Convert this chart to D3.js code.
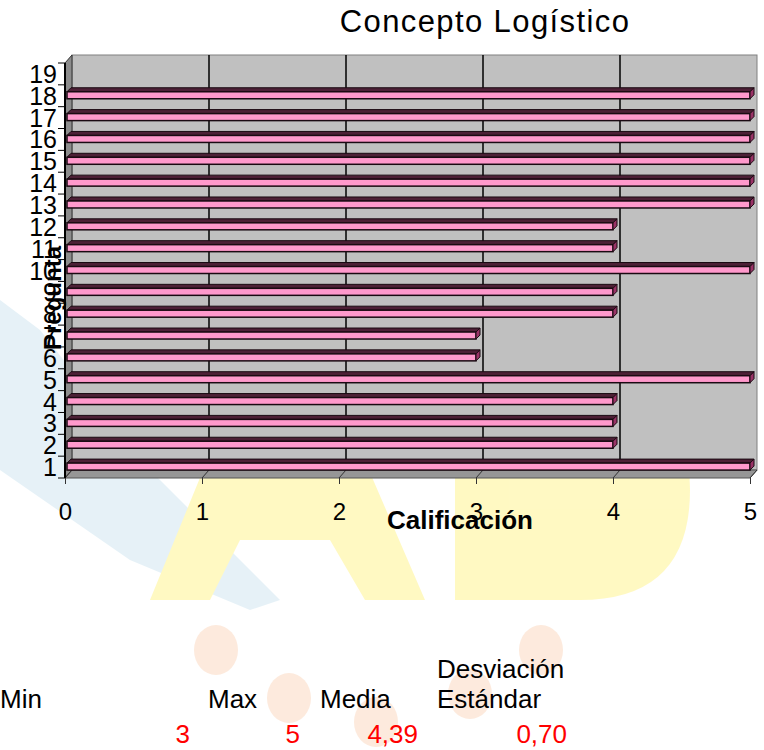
<!DOCTYPE html>
<html>
<head>
<meta charset="utf-8">
<script src="https://cdn.jsdelivr.net/npm/d3@7"></script>
<style>
  body { margin: 0; background: #fff; }
  svg { display: block; font-family: "Liberation Sans", Arial, sans-serif; }
</style>
</head>
<body>
<div id="general"></div>
<script>
const w = 764, h = 750;

// data
const preguntas = d3.range(1, 20).map(String);
const calificacion = [5, 4, 4, 4, 5, 3, 3, 4, 4, 5, 4, 4, 5, 5, 5, 5, 5, 5, null];
const xTicks = [0, 1, 2, 3, 4, 5];
const statLabels = ["Min", "Max", "Media", "Desviación Estándar"];
const statValues = ["3", "5", "4,39", "0,70"];

const data = preguntas.map((p, i) => ({p, v: calificacion[i]}));

const m = {l: 65, r: 750, t: 63, b: 478};
const dx = 7, dy = -8;       // depth of walls
const bd = 4;                // depth of bars

const x = d3.scaleLinear().domain([0, 5]).range([m.l, m.r]);
const y = d3.scaleBand().domain(preguntas).range([m.b, m.t]);

const svg = d3.select("#general").append("svg")
  .attr("width", w).attr("height", h).attr("viewBox", `0 0 ${w} ${h}`);

// faint watermark behind everything
const wm = svg.append("g").attr("opacity", 0.45);
wm.append("path")
  .attr("d", "M0,300 L40,330 L150,470 L280,600 L250,610 L130,560 L0,470 Z")
  .attr("fill", "#c8e2ef");
wm.append("path")
  .attr("d", "M150,600 L240,380 L330,380 L425,600 L365,600 L330,540 L240,540 L210,600 Z")
  .attr("fill", "#fff27a");
wm.append("path")
  .attr("d", "M455,380 L580,380 Q690,385 690,490 Q690,600 580,600 L455,600 Z")
  .attr("fill", "#fff27a");
wm.selectAll("ellipse.c")
  .data([[216, 650], [289, 698], [376, 722], [470, 694], [541, 650]])
  .join("ellipse")
    .attr("cx", d => d[0]).attr("cy", d => d[1])
    .attr("rx", 22).attr("ry", 25)
    .attr("fill", "#fbd2b4");

// back wall
svg.append("rect")
  .attr("x", m.l + dx).attr("y", m.t + dy)
  .attr("width", m.r - m.l).attr("height", m.b - m.t)
  .attr("fill", "#c0c0c0").attr("stroke", "#808080");

// side wall and floor
svg.append("path")
  .attr("d", `M${m.l},${m.t} L${m.l + dx},${m.t + dy} L${m.l + dx},${m.b + dy} L${m.l},${m.b} Z`)
  .attr("fill", "#8c8c8c").attr("stroke", "#333");
svg.append("path")
  .attr("d", `M${m.l},${m.b} L${m.l + dx},${m.b + dy} L${m.r + dx},${m.b + dy} L${m.r},${m.b} Z`)
  .attr("fill", "#969696").attr("stroke", "#555");

// gridlines on the back wall and floor
svg.append("g").selectAll("line")
  .data(xTicks.slice(1, -1))
  .join("line")
    .attr("x1", d => x(d) + dx).attr("x2", d => x(d) + dx)
    .attr("y1", m.t + dy).attr("y2", m.b + dy)
    .attr("stroke", "#000").attr("stroke-width", 1.5);
svg.append("g").selectAll("line")
  .data(xTicks)
  .join("line")
    .attr("x1", d => x(d)).attr("x2", d => x(d) + dx)
    .attr("y1", m.b).attr("y2", m.b + dy)
    .attr("stroke", "#333");

// bars
const bh = 7;
const bars = svg.append("g").selectAll("g")
  .data(data.filter(d => d.v != null))
  .join("g")
    .attr("transform", d => `translate(0,${y(d.p) + y.bandwidth() / 2 - 4})`);

bars.append("path")
  .attr("d", d => `M${x(0) + 2},0 L${x(0) + 2 + bd},${-bd} L${x(d.v) + bd},${-bd} L${x(d.v)},0 Z`)
  .attr("fill", "#4d2036").attr("stroke", "#1a0a12");
bars.append("rect")
  .attr("x", x(0) + 2).attr("y", 0)
  .attr("width", d => x(d.v) - x(0) - 2).attr("height", bh)
  .attr("fill", "#ff99cc").attr("stroke", "#1a0a12").attr("stroke-width", 1.5);
bars.append("path")
  .attr("d", d => `M${x(d.v)},0 L${x(d.v) + bd},${-bd} L${x(d.v) + bd},${bh - bd} L${x(d.v)},${bh} Z`)
  .attr("fill", "#993366").attr("stroke", "#1a0a12");

// front axis line
svg.append("line")
  .attr("x1", m.l).attr("x2", m.l).attr("y1", m.t).attr("y2", m.b)
  .attr("stroke", "#000").attr("stroke-width", 2);

// y axis: ticks at band edges, labels at centres
svg.append("g").selectAll("line")
  .data(d3.range(0, preguntas.length + 1))
  .join("line")
    .attr("x1", m.l - 7).attr("x2", m.l)
    .attr("y1", i => m.b - i * y.step()).attr("y2", i => m.b - i * y.step())
    .attr("stroke", "#000");

const yAxis = svg.append("g")
  .attr("transform", `translate(${m.l - 5},0)`)
  .call(d3.axisLeft(y).tickSize(0).tickPadding(3));
yAxis.select(".domain").remove();
yAxis.selectAll("text")
  .attr("font-size", 25).attr("font-family", "Liberation Sans, Arial")
  .attr("fill", "#000")
  .attr("dy", "0.36em");

// x axis
const xAxis = svg.append("g")
  .attr("transform", `translate(0,${m.b})`)
  .call(d3.axisBottom(x).tickValues(xTicks).tickSize(6).tickPadding(19).tickFormat(d3.format("d")));
xAxis.select(".domain").remove();
xAxis.selectAll("line").attr("stroke", "#333");
xAxis.selectAll("text")
  .attr("font-size", 24).attr("font-family", "Liberation Sans, Arial").attr("fill", "#000");

// titles
svg.append("text")
  .attr("x", 485).attr("y", 32)
  .attr("text-anchor", "middle")
  .attr("font-size", 31).attr("letter-spacing", 1.4)
  .text("Concepto Logístico");

svg.append("text")
  .attr("x", 460).attr("y", 529)
  .attr("text-anchor", "middle")
  .attr("font-size", 26).attr("font-weight", "bold")
  .text("Calificación");

svg.append("text")
  .attr("transform", "translate(61,298) rotate(-90)")
  .attr("text-anchor", "middle")
  .attr("font-size", 24).attr("font-weight", "bold")
  .text("Pregunta");

// stats table
const labelX = [0, 208, 320, 437];
const valueX = [190, 300, 418, 567];
const stats = svg.append("g").attr("font-size", 26);
stats.selectAll("text.lab")
  .data(statLabels)
  .join("text")
    .attr("class", "lab")
    .attr("x", (d, i) => labelX[i]).attr("y", 708)
    .each(function(d) {
      const parts = d.split(" ");
      const t = d3.select(this);
      if (parts.length > 1) {
        t.append("tspan").attr("x", t.attr("x")).attr("dy", -30).text(parts[0]);
        t.append("tspan").attr("x", t.attr("x")).attr("dy", 30).text(parts[1]);
      } else t.text(d);
    });
stats.selectAll("text.val")
  .data(statValues)
  .join("text")
    .attr("class", "val")
    .attr("x", (d, i) => valueX[i]).attr("y", 743)
    .attr("text-anchor", "end")
    .attr("fill", "#ff0000")
    .text(d => d);
</script>
</body>
</html>
